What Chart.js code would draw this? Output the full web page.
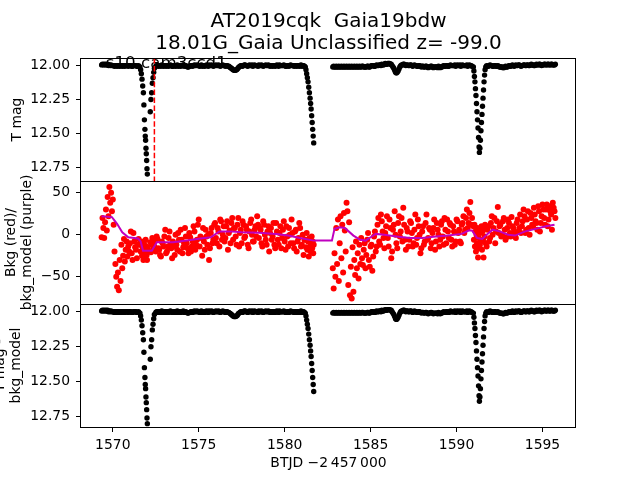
<!DOCTYPE html>
<html>
<head>
<meta charset="utf-8">
<script src="https://cdn.jsdelivr.net/npm/chart.js@4/dist/chart.umd.min.js"></script>
<style>
  body { margin: 0; background: #fff; }
  #wrap { position: relative; width: 640px; height: 480px; }
  #wrap canvas { position: absolute; left: 0; top: 0; }
</style>
</head>
<body>
<div id="wrap">
  <canvas id="panelBottom" width="640" height="480"></canvas>
  <canvas id="panelMiddle" width="640" height="480"></canvas>
  <canvas id="panelTop" width="640" height="480"></canvas>
</div>
<script>
// BTJD of each cadence (sector 10), two orbits with a gap near 1582
// (the last block holds the in-between cadences of the quiet stretches)
const btjd = [
  1569.35, 1569.40, 1569.45, 1569.50, 1569.55, 1569.60, 1569.65, 1569.70, 1569.75, 1569.80,
  1569.85, 1569.90, 1569.95, 1570.00, 1570.05, 1570.10, 1570.15, 1570.20, 1570.25, 1570.30,
  1570.35, 1570.40, 1570.45, 1570.50, 1570.55, 1570.60, 1570.65, 1570.70, 1570.75, 1570.80,
  1570.85, 1570.90,
  1571.00, 1571.10, 1571.20, 1571.30, 1571.40, 1571.50,
  1571.58, 1571.62, 1571.66, 1571.70, 1571.74, 1571.78, 1571.81, 1571.84, 1571.87, 1571.89,
  1571.91, 1571.93, 1571.95, 1571.97, 1571.99, 1572.01, 1572.18, 1572.22, 1572.26, 1572.30,
  1572.34, 1572.38, 1572.42,
  1572.5, 1572.6, 1572.7, 1572.8, 1572.9, 1573.0, 1573.1, 1573.2, 1573.3, 1573.4,
  1573.5, 1573.6, 1573.7, 1573.8, 1573.9, 1574.0, 1574.1, 1574.2, 1574.3, 1574.4,
  1574.5, 1574.6, 1574.7, 1574.8, 1574.9, 1575.0, 1575.1, 1575.2, 1575.3, 1575.4,
  1575.5, 1575.6, 1575.7, 1575.8, 1575.9, 1576.0, 1576.1, 1576.2, 1576.3, 1576.4,
  1576.5, 1576.6, 1576.7, 1576.8, 1576.9, 1577.0, 1577.1, 1577.2, 1577.3, 1577.4,
  1577.5, 1577.6, 1577.7, 1577.8, 1577.9, 1578.0, 1578.1, 1578.2, 1578.3, 1578.4,
  1578.5, 1578.6, 1578.7, 1578.8, 1578.9, 1579.0, 1579.1, 1579.2, 1579.3, 1579.4,
  1579.5, 1579.6, 1579.7, 1579.8, 1579.9, 1580.0, 1580.1, 1580.2, 1580.3, 1580.4,
  1580.5, 1580.6, 1580.7, 1580.8, 1580.9, 1581.0, 1581.1,
  1581.20, 1581.24, 1581.28, 1581.32, 1581.36, 1581.40, 1581.44, 1581.48, 1581.51, 1581.54,
  1581.57, 1581.60, 1581.63, 1581.66, 1581.69,
  1582.80, 1582.85, 1582.90, 1582.95, 1583.00, 1583.05, 1583.10, 1583.15, 1583.20, 1583.25,
  1583.30, 1583.35, 1583.40, 1583.45, 1583.50, 1583.55, 1583.60, 1583.65, 1583.70, 1583.75,
  1583.80, 1583.85, 1583.90, 1583.95, 1584.00, 1584.05, 1584.10, 1584.15, 1584.20, 1584.25,
  1584.30, 1584.35, 1584.40, 1584.45, 1584.50,
  1584.6, 1584.7, 1584.8, 1584.9, 1585.0, 1585.1, 1585.2, 1585.3, 1585.4, 1585.5,
  1585.6, 1585.7, 1585.8, 1585.9, 1586.0, 1586.1, 1586.2, 1586.3, 1586.4, 1586.5,
  1586.6, 1586.7, 1586.8, 1586.9, 1587.0, 1587.1, 1587.2, 1587.3, 1587.4, 1587.5,
  1587.6, 1587.7, 1587.8, 1587.9, 1588.0, 1588.1, 1588.2, 1588.3, 1588.4, 1588.5,
  1588.6, 1588.7, 1588.8, 1588.9, 1589.0, 1589.1, 1589.2, 1589.3, 1589.4, 1589.5,
  1589.6, 1589.7, 1589.8, 1589.9, 1590.0, 1590.1, 1590.2, 1590.3, 1590.4, 1590.5,
  1590.6, 1590.7, 1590.8, 1590.9,
  1590.98, 1591.01, 1591.04, 1591.07, 1591.10, 1591.13, 1591.16, 1591.19, 1591.22, 1591.25,
  1591.28, 1591.31, 1591.33, 1591.36, 1591.39, 1591.42, 1591.45, 1591.48, 1591.51, 1591.54,
  1591.57, 1591.60, 1591.63, 1591.66, 1591.70,
  1591.8, 1591.9, 1592.0, 1592.1, 1592.2, 1592.3, 1592.4, 1592.5, 1592.6, 1592.7,
  1592.8, 1592.9, 1593.0, 1593.1, 1593.2, 1593.3, 1593.4, 1593.5, 1593.6, 1593.7,
  1593.8, 1593.9, 1594.0, 1594.1, 1594.2, 1594.3, 1594.4, 1594.5, 1594.6, 1594.7,
  1594.8, 1594.9, 1595.0, 1595.1, 1595.2, 1595.3, 1595.4, 1595.5, 1595.6, 1595.7,
  // in-between cadences
  1570.95, 1571.05, 1571.15, 1571.25, 1571.35, 1571.45,
  1572.55, 1572.65, 1572.75, 1572.85, 1572.95, 1573.05, 1573.15, 1573.25, 1573.35, 1573.45,
  1573.55, 1573.65, 1573.75, 1573.85, 1573.95, 1574.05, 1574.15, 1574.25, 1574.35, 1574.45,
  1574.55, 1574.65, 1574.75, 1574.85, 1574.95, 1575.05, 1575.15, 1575.25, 1575.35, 1575.45,
  1575.55, 1575.65, 1575.75, 1575.85, 1575.95, 1576.05, 1576.15, 1576.25, 1576.35, 1576.45,
  1576.55, 1576.65, 1576.75, 1576.85, 1576.95, 1577.05, 1577.15, 1577.25, 1577.35, 1577.45,
  1577.55, 1577.65, 1577.75, 1577.85, 1577.95, 1578.05, 1578.15, 1578.25, 1578.35, 1578.45,
  1578.55, 1578.65, 1578.75, 1578.85, 1578.95, 1579.05, 1579.15, 1579.25, 1579.35, 1579.45,
  1579.55, 1579.65, 1579.75, 1579.85, 1579.95, 1580.05, 1580.15, 1580.25, 1580.35, 1580.45,
  1580.55, 1580.65, 1580.75, 1580.85, 1580.95, 1581.05, 1581.15,
  1584.55, 1584.65, 1584.75, 1584.85, 1584.95, 1585.05, 1585.15, 1585.25, 1585.35, 1585.45,
  1585.55, 1585.65, 1585.75, 1585.85, 1585.95, 1586.05, 1586.15, 1586.25, 1586.35, 1586.45,
  1586.55, 1586.65, 1586.75, 1586.85, 1586.95, 1587.05, 1587.15, 1587.25, 1587.35, 1587.45,
  1587.55, 1587.65, 1587.75, 1587.85, 1587.95, 1588.05, 1588.15, 1588.25, 1588.35, 1588.45,
  1588.55, 1588.65, 1588.75, 1588.85, 1588.95, 1589.05, 1589.15, 1589.25, 1589.35, 1589.45,
  1589.55, 1589.65, 1589.75, 1589.85, 1589.95, 1590.05, 1590.15, 1590.25, 1590.35, 1590.45,
  1590.55, 1590.65, 1590.75, 1590.85,
  1591.75, 1591.85, 1591.95, 1592.05, 1592.15, 1592.25, 1592.35, 1592.45, 1592.55, 1592.65,
  1592.75, 1592.85, 1592.95, 1593.05, 1593.15, 1593.25, 1593.35, 1593.45, 1593.55, 1593.65,
  1593.75, 1593.85, 1593.95, 1594.05, 1594.15, 1594.25, 1594.35, 1594.45, 1594.55, 1594.65,
  1594.75, 1594.85, 1594.95, 1595.05, 1595.15, 1595.25, 1595.35, 1595.45, 1595.55, 1595.65,
  1595.75
]

// TESS magnitude (also used for the bkg-model corrected panel, which looks the same)
const tmag = [
  11.995, 11.99, 11.995, 11.99, 11.995, 11.99, 11.995, 11.99, 12.0, 11.995,
  12.0, 11.995, 12.0, 12.0, 12.0, 12.005, 12.0, 12.0, 12.005, 12.0,
  12.0, 12.005, 12.0, 12.0, 12.005, 12.0, 12.0, 12.005, 12.0, 12.0,
  12.0, 12.005,
  12.0, 12.005, 12.0, 12.0, 12.005, 12.0,
  12.01, 12.03, 12.06, 12.10, 12.15, 12.20, 12.29, 12.40, 12.47, 12.52,
  12.55, 12.61, 12.65, 12.70, 12.76, 12.80, 12.34, 12.25, 12.20, 12.13,
  12.09, 12.05, 12.02,
  12.005, 12.0, 12.0, 12.005, 12.0, 12.0, 12.005, 12.0, 12.0, 12.0,
  12.005, 12.0, 12.0, 12.005, 12.0, 12.0, 11.995, 12.0, 12.005, 12.01,
  12.005, 12.0, 12.0, 12.0, 11.995, 12.0, 12.0, 12.005, 12.0, 12.0,
  12.0, 11.995, 12.0, 12.0, 12.0, 11.995, 12.0, 12.0, 12.0, 11.995,
  12.0, 12.0, 12.005, 12.01, 12.02, 12.03, 12.035, 12.03, 12.015, 12.005,
  12.0, 12.0, 11.995, 12.0, 12.0, 12.0, 11.995, 12.0, 12.0, 12.0,
  11.995, 12.0, 12.0, 12.0, 11.995, 12.0, 12.0, 12.0, 12.005, 12.0,
  12.0, 12.0, 11.995, 12.0, 12.0, 12.0, 12.005, 12.0, 12.0, 12.0,
  12.0, 12.0, 12.005, 12.0, 12.0, 12.005, 12.0,
  12.01, 12.03, 12.06, 12.09, 12.12, 12.16, 12.20, 12.24, 12.28, 12.32,
  12.37, 12.42, 12.47, 12.52, 12.57,
  12.01, 12.005, 12.01, 12.01, 12.005, 12.01, 12.01, 12.005, 12.01, 12.01,
  12.005, 12.01, 12.01, 12.005, 12.01, 12.01, 12.005, 12.01, 12.01, 12.005,
  12.01, 12.01, 12.005, 12.01, 12.01, 12.005, 12.01, 12.01, 12.005, 12.01,
  12.01, 12.005, 12.01, 12.01, 12.005,
  12.01, 12.01, 12.005, 12.01, 12.005, 12.0, 12.005, 12.0, 12.0, 11.995,
  12.0, 11.995, 11.99, 11.99, 11.985, 11.985, 11.99, 12.01, 12.035, 12.055,
  12.04, 12.01, 11.995, 11.99, 11.995, 11.995, 12.0, 11.995, 12.0, 12.0,
  12.0, 12.005, 12.0, 12.005, 12.005, 12.01, 12.005, 12.01, 12.01, 12.005,
  12.01, 12.01, 12.01, 12.015, 12.01, 12.01, 12.005, 12.005, 12.0, 12.005,
  12.0, 12.0, 12.0, 11.995, 12.0, 12.0, 11.995, 12.0, 12.0, 12.0,
  11.995, 12.0, 12.0, 12.005,
  12.01, 12.04, 12.08, 12.12, 12.17, 12.22, 12.28, 12.34, 12.40, 12.46,
  12.53, 12.60, 12.64, 12.61, 12.55, 12.48, 12.42, 12.36, 12.30, 12.24,
  12.18, 12.12, 12.07, 12.03, 12.01,
  12.005, 12.0, 12.0, 12.005, 12.0, 12.005, 12.0, 12.01, 12.01, 12.015,
  12.01, 12.01, 12.005, 12.005, 12.0, 12.0, 12.0, 12.0, 11.995, 12.0,
  12.0, 11.995, 12.0, 11.995, 12.0, 11.995, 11.995, 12.0, 11.995, 11.995,
  11.99, 11.995, 11.995, 11.99, 11.995, 11.99, 11.995, 11.99, 11.995, 11.995,
  // in-between cadences
  12.0, 12.0, 12.005, 12.0, 12.0, 12.005,
  12.0, 12.005, 12.0, 11.995, 12.005, 12.0, 12.0, 12.005, 11.995, 12.005,
  12.0, 12.005, 11.995, 12.0, 12.005, 12.0, 12.005, 12.0, 12.01, 12.005,
  12.0, 12.005, 11.995, 12.0, 12.0, 12.005, 11.995, 12.0, 12.005, 11.995,
  12.005, 12.0, 11.995, 12.005, 12.0, 12.0, 11.995, 12.005, 12.0, 12.0,
  12.005, 12.0, 12.005, 12.015, 12.025, 12.035, 12.035, 12.025, 12.01, 12.0,
  12.005, 11.995, 12.0, 12.005, 11.995, 12.0, 12.005, 11.995, 12.0, 12.005,
  12.0, 11.995, 12.005, 12.0, 12.0, 11.995, 12.005, 12.0, 12.0, 12.005,
  11.995, 12.005, 12.0, 12.0, 11.995, 12.005, 12.0, 12.005, 11.995, 12.0,
  12.005, 12.0, 12.0, 12.005, 11.995, 12.0, 12.005,
  12.005, 12.01, 12.01, 12.005, 12.01, 12.0, 12.0, 12.005, 11.995, 12.0,
  11.995, 11.99, 11.995, 11.985, 11.99, 11.985, 11.99, 12.0, 12.02, 12.05,
  12.05, 12.025, 12.0, 11.995, 11.99, 12.0, 11.995, 12.0, 11.995, 12.005,
  11.995, 12.0, 12.005, 12.0, 12.01, 12.005, 12.01, 12.005, 12.015, 12.01,
  12.005, 12.015, 12.01, 12.01, 12.005, 12.015, 12.01, 12.0, 12.005, 12.0,
  12.005, 11.995, 12.0, 12.0, 12.005, 11.995, 12.0, 12.005, 11.995, 12.0,
  12.0, 12.005, 11.995, 12.0,
  12.0, 12.005, 11.995, 12.0, 12.005, 12.0, 12.005, 12.005, 12.01, 12.01,
  12.015, 12.005, 12.01, 12.0, 12.005, 11.995, 12.005, 11.995, 12.0, 11.995,
  12.005, 12.0, 11.995, 12.0, 11.995, 12.0, 11.99, 11.995, 12.0, 11.99,
  11.995, 11.99, 12.0, 11.995, 11.99, 11.995, 11.99, 11.995, 11.99, 11.995,
  11.99
]

// background flux (red)
const bkg = [
  -3, 20, 8, -4, 15, 30, 5, 45, 22, 57,
  38, 50, 28, 42, 12, -20, -35, -50, -62, -45,
  -66, -30, -55, -12, -40, -25, -5, -32, -18, -8,
  -26, -14,
  -10, -22, 2, -15, -28, -5,
  -12, -20, -8, -25, -15, -30, -10, -22, -18, -28,
  -6, -20, -14, -24, -30, -16, -9, -21, -12, -4,
  -17, -8, -14,
  -20, -5, -18, -26, -10, -2, -22, -14, 4, -16,
  -8, -24, -12, 2, -20, -6, -15, 8, -10, -22,
  -3, -14, 10, -18, -6, 18, -2, -25, -8, 6,
  -12, -30, 2, -10, 12, -4, 8, -14, 16, 0,
  -8, 10, -18, 5, 14, -6, 8, -12, 20, 2,
  -10, 12, -2, 6, -16, 14, 0, -8, 10, 22,
  -4, 6, -14, 12, -6, 4, -20, 8, -2, -12,
  14, -6, 2, -16, 6, -8, 10, -14, 0, 18,
  -10, 4, -20, -4, 8, -12, -24,
  -6, -15, 2, -18, -8, -26, -4, -14, -20, -10,
  -2, -16, -8, -22, -12,
  -40, -64, -22, -50, 8, -35, 18, -55, -10, 22,
  -28, 12, -45, 26, 5, -20, 38, 28, -60, 15,
  -72, -38, -76, -15, -68, -30, -48, -8, -40, -22,
  -52, -12, -35, -4, -28,
  -18, -40, -6, -30, -14, -43, -2, -20, 12, -8,
  24, 4, -16, 10, -4, 18, -28, 6, 28, -10,
  14, -2, 20, 32, -6, 8, -14, 16, 2, -10,
  24, -4, 10, -22, 4, -12, 14, -6, 8, -16,
  2, 18, -8, 6, -14, 12, -2, 20, -10, 4,
  14, -6, 10, -12, 18, 2, -8, 12, 22, 6,
  30, 14, 39, 20,
  10, -6, 12, -14, 4, -20, 0, -10, 8, -27,
  -4, -16, 6, -12, 2, -8, 10, -18, 4, -6,
  -27, 8, -2, 12, -10,
  6, -8, 14, 0, 20, 4, 33, 10, -2, 16,
  6, -3, 18, 2, 21, 8, -1, 14, 4, 24,
  10, 30, 2, 18, 8, 26, 12, 32, 16, 6,
  28, 14, 36, 20, 30, 10, 34, 24, 38, 28,
  // in-between cadences
  -20, 4, -30, -8, -18, -12,
  -2, -16, -24, -8, -14, 6, -20, -4, -12, -28,
  -14, 0, -18, -6, 6, -22, -10, -2, -16, 2,
  -20, -8, 4, -12, 12, -14, -4, 8, -18, -2,
  0, -16, 8, -6, 14, -10, 4, 18, -6, 10,
  -4, 16, 2, -10, 20, 8, -2, 12, -14, 6,
  16, -4, 10, -12, 4, 18, -8, 6, -2, 12,
  8, -10, 16, 0, -12, 10, 2, -6, 14, -16,
  4, -12, 10, -4, 16, -18, -2, 8, -10, 2,
  -16, 6, -8, 14, -14, 0, -6,
  -36, -10, -24, 2, -38, -12, -26, 4, -14, 20,
  -12, 16, -4, 2, 22, -14, 8, -20, 12, 0,
  -16, 22, 4, -8, 12, -18, 4, -6, 14, -14,
  6, -12, 18, 0, -16, 10, -8, 24, -4, 6,
  -10, 8, -18, 14, 0, -6, 16, -12, 6, 18,
  -4, 12, -14, 4, -8, 16, 6, -10, 14, 2,
  20, 8, 26, 12,
  -14, 10, -4, 22, 8, -10, 16, 2, 12, 0,
  20, -6, 8, 14, -2, 10, 4, -4, 18, 8,
  2, 16, 22, 6, 28, 0, 20, 10, 24, 14,
  34, 4, 22, 30, 12, 36, 18, 28, 6, 32,
  20
]

// smoothed background model (purple)
const modelTime = [
  1569.35, 1569.95, 1570.25, 1570.55, 1570.9, 1571.47, 1571.62, 1571.76, 1572.27, 1572.56,
  1573.5, 1574.3, 1575.1, 1575.7, 1576.2, 1576.8, 1577.5, 1578.5, 1579.5, 1580.2,
  1580.9, 1581.7, 1582.75, 1582.9, 1583.2, 1583.5, 1584.0, 1584.4, 1584.7, 1585.0,
  1585.3, 1585.8, 1586.5, 1587.3, 1588.0, 1588.8, 1589.5, 1590.3, 1590.7, 1590.9,
  1591.2, 1591.5, 1591.8, 1592.1, 1592.5, 1593.0, 1593.4, 1594.0, 1594.6, 1595.2,
  1595.7
]
const bkgModel = [
  22, 21, 13, 3, -3, -4.5, -8, -19, -19, -9,
  -9, -7, -4.5, -3, 4, 4, 3, 2.5, 1, -1,
  -4, -7, -7, 7, 9, 8, -1, -6, -7, -3,
  1, 0, -2, -4, -4, -2, -1, 1, 5, 5,
  -4, -5, 1, 6, 4, 0, -1, 4, 7, 10,
  12
]

const discoveryBtjd = 1572.42
const titleLines = ['AT2019cqk  Gaia19bdw', '18.01G_Gaia Unclassified z= -99.0']
const sectorText = 's10 cam3ccd1'

const xTicks = [1570, 1575, 1580, 1585, 1590, 1595]
const magTicks = [12.0, 12.25, 12.5, 12.75]
const bkgTicks = [-50, 0, 50]

const xRange = [1568.15, 1596.95]
const topRange = [11.944, 12.851]
const midRange = [-82.5, 64]
const botRange = [11.945, 12.824]

Chart.defaults.font.family = "'DejaVu Sans', sans-serif"
Chart.defaults.font.size = 13.9
Chart.defaults.color = '#000'

const toPoints = (xs, ys) => xs.map((x, i) => ({ x, y: ys[i] }))
const magLabel = v => v.toFixed(2)
const bkgLabel = v => (v < 0 ? '\u2212' + Math.abs(v) : String(v))

const frame = {
  id: 'frame',
  afterDatasetsDraw (chart) {
    const { ctx, chartArea: a } = chart
    ctx.save()
    ctx.strokeStyle = '#000'
    ctx.lineWidth = 1
    ctx.strokeRect(Math.round(a.left) - 0.5, Math.round(a.top) + 0.5,
      Math.round(a.right - a.left), Math.round(a.bottom - a.top))
    ctx.restore()
  }
}

const sectorLabel = {
  id: 'sectorLabel',
  beforeDatasetsDraw (chart) {
    const { ctx, chartArea: a } = chart
    ctx.save()
    ctx.font = "16.7px 'DejaVu Sans', sans-serif"
    ctx.fillStyle = '#000'
    ctx.textBaseline = 'alphabetic'
    ctx.fillText(sectorText, a.left + 0.05 * (a.right - a.left), a.top + 10)
    ctx.restore()
  }
}

const makePanel = (id, cfg) => new Chart(document.getElementById(id), {
  type: 'scatter',
  data: { datasets: cfg.datasets },
  options: {
    responsive: false,
    animation: false,
    devicePixelRatio: 1,
    events: [],
    layout: { padding: cfg.padding },
    plugins: {
      legend: { display: false },
      tooltip: { enabled: false },
      title: cfg.title || { display: false }
    },
    scales: {
      x: {
        type: 'linear',
        min: xRange[0],
        max: xRange[1],
        display: !!cfg.showX,
        afterBuildTicks: s => { s.ticks = xTicks.map(v => ({ value: v })) },
        afterFit: s => { s.height = cfg.showX ? 53 : 0 },
        grid: { drawOnChartArea: false, tickLength: 5, color: '#000' },
        border: { display: false },
        ticks: { padding: 5, maxRotation: 0, autoSkip: false, callback: v => String(v) },
        title: { display: true, text: 'BTJD \u22122\u2009457\u2009000', padding: { top: 0, bottom: 8.6 } }
      },
      y: {
        type: 'linear',
        min: cfg.range[0],
        max: cfg.range[1],
        reverse: !!cfg.reverse,
        afterBuildTicks: s => { s.ticks = cfg.ticks.map(v => ({ value: v })) },
        afterFit: s => { s.width = 81 },
        grid: { drawOnChartArea: false, tickLength: 5, color: '#000' },
        border: { display: false },
        ticks: { padding: 6, autoSkip: false, callback: cfg.tickLabel },
        title: { display: true, text: cfg.yTitle, padding: { top: cfg.titlePad, bottom: 0 } }
      }
    }
  },
  plugins: [frame, ...(cfg.plugins || [])]
})

const dots = (data, color, r) => ({
  data,
  backgroundColor: color,
  borderWidth: 0,
  pointRadius: r,
  pointHoverRadius: r
})

makePanel('panelTop', {
  padding: { top: 0, right: 64, bottom: 299, left: 0 },
  range: topRange,
  reverse: true,
  ticks: magTicks,
  tickLabel: magLabel,
  yTitle: 'T mag',
  titlePad: 9,
  title: {
    display: true,
    fullSize: false,
    text: titleLines,
    color: '#000',
    font: { size: 20, lineHeight: 1.1, weight: 'normal' },
    padding: { top: 11, bottom: 3 }
  },
  plugins: [sectorLabel],
  datasets: [
    {
      data: [{ x: discoveryBtjd, y: topRange[0] }, { x: discoveryBtjd, y: topRange[1] }],
      showLine: true,
      borderColor: '#ff0000',
      borderWidth: 1.5,
      borderDash: [5.5, 2.4],
      pointRadius: 0
    },
    dots(toPoints(btjd, tmag), '#000', 2.7)
  ]
})

makePanel('panelMiddle', {
  padding: { top: 181, right: 64, bottom: 176, left: 0 },
  range: midRange,
  ticks: bkgTicks,
  tickLabel: bkgLabel,
  yTitle: ['Bkg (red)/', 'bkg_model (purple)'],
  titlePad: 2.6,
  datasets: [
    {
      data: toPoints(modelTime, bkgModel),
      showLine: true,
      borderColor: '#bf00bf',
      borderWidth: 2,
      pointRadius: 0
    },
    dots(toPoints(btjd, bkg), '#ff0000', 3)
  ]
})

makePanel('panelBottom', {
  padding: { top: 304, right: 64, bottom: 0, left: 0 },
  range: botRange,
  reverse: true,
  ticks: magTicks,
  tickLabel: magLabel,
  yTitle: ['T mag -', 'bkg_model'],
  titlePad: -8.2,
  showX: true,
  datasets: [dots(toPoints(btjd, tmag), '#000', 2.7)]
})
</script>
</body>
</html>
